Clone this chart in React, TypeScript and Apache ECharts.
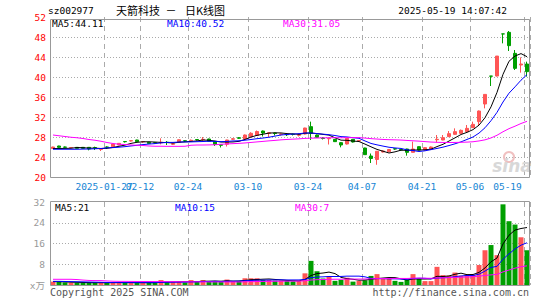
import React, { useEffect, useRef } from 'react';
import * as echarts from 'echarts';

// ---------- data ----------
const dates = [
  '2025-01-14','2025-01-15','2025-01-16','2025-01-17','2025-01-20','2025-01-21','2025-01-22','2025-01-23','2025-01-24','2025-01-27',
  '2025-02-05','2025-02-06','2025-02-07','2025-02-10','2025-02-11','2025-02-12','2025-02-13','2025-02-14','2025-02-17','2025-02-18',
  '2025-02-19','2025-02-20','2025-02-21','2025-02-24','2025-02-25','2025-02-26','2025-02-27','2025-02-28','2025-03-03','2025-03-04',
  '2025-03-05','2025-03-06','2025-03-07','2025-03-10','2025-03-11','2025-03-12','2025-03-13','2025-03-14','2025-03-17','2025-03-18',
  '2025-03-19','2025-03-20','2025-03-21','2025-03-24','2025-03-25','2025-03-26','2025-03-27','2025-03-28','2025-03-31','2025-04-01',
  '2025-04-02','2025-04-03','2025-04-07','2025-04-08','2025-04-09','2025-04-10','2025-04-11','2025-04-14','2025-04-15','2025-04-16',
  '2025-04-17','2025-04-18','2025-04-21','2025-04-22','2025-04-23','2025-04-24','2025-04-25','2025-04-28','2025-04-29','2025-04-30',
  '2025-05-06','2025-05-07','2025-05-08','2025-05-09','2025-05-12','2025-05-13','2025-05-14','2025-05-15','2025-05-16','2025-05-19',
];

const opens = [
  25.7,26.2,26.0,25.85,25.93,25.93,25.93,25.9,25.5,26.0,
  26.07,26.4,27.1,27.2,27.4,27.05,26.95,26.85,26.85,26.95,
  26.55,26.95,27.25,27.25,27.5,27.45,27.6,27.1,26.45,26.55,
  27.55,27.85,27.6,28.05,28.3,29.2,28.75,28.8,28.5,28.5,
  28.55,28.35,28.6,30.07,28.4,27.8,27.65,27.53,26.87,26.6,
  27.53,27.2,25.8,24.2,23.5,25.0,25.05,25.65,25.5,25.6,
  24.93,26.07,25.4,25.6,27.45,27.4,28.07,28.53,28.73,29.07,
  29.87,31.07,34.6,40.18,40.2,48.62,48.93,44.73,42.4,42.6,
];
const closes = [
  26.0,25.93,25.95,25.9,25.73,25.73,25.6,25.87,25.55,25.95,
  26.6,26.73,27.05,27.27,27.07,27.1,26.7,26.8,26.95,26.9,
  26.65,27.45,27.2,27.35,27.45,27.55,27.15,26.5,26.35,27.4,
  27.65,27.75,28.4,28.75,29.1,28.8,28.85,28.7,28.6,28.45,
  28.5,28.45,29.8,28.73,27.93,27.7,27.75,27.07,26.4,27.73,
  27.0,27.3,24.47,23.7,25.15,25.2,25.5,25.6,25.4,24.93,
  25.6,25.4,25.87,26.0,27.55,27.87,28.67,29.07,29.33,29.73,
  30.53,33.2,36.52,40.17,44.19,48.61,46.27,41.73,42.6,41.07,
];
const lows = [
  25.6,25.85,25.8,25.8,25.7,25.7,25.33,25.4,25.2,25.6,
  26.0,26.35,26.9,27.1,27.0,26.85,26.6,26.7,26.53,26.4,
  26.4,26.9,27.0,27.15,27.3,27.2,27.1,26.2,25.9,26.1,
  27.4,27.6,27.5,28.0,28.25,28.1,28.0,28.3,28.3,28.2,
  28.3,28.1,28.5,27.4,27.8,27.5,26.5,27.0,25.93,26.5,
  26.9,27.0,24.4,22.8,22.45,24.9,25.0,25.45,25.3,24.27,
  24.9,25.35,25.3,25.55,26.93,27.35,28.0,28.45,28.65,29.0,
  29.8,30.2,33.73,38.2,40.1,46.73,45.2,41.4,40.87,40.07,
];
const highs = [
  26.05,26.25,26.1,25.95,25.95,25.95,25.95,26.07,25.6,26.13,
  26.65,26.8,27.2,27.4,27.45,27.2,27.0,26.95,27.73,27.2,
  26.75,27.5,27.35,27.5,27.6,28.0,27.65,27.15,26.6,27.45,
  27.8,28.0,28.5,28.95,29.3,29.3,28.9,28.85,28.7,28.6,
  28.65,28.7,29.85,31.07,28.5,28.0,27.9,27.6,27.0,27.8,
  27.6,27.4,25.85,24.7,25.2,25.3,25.6,25.75,25.6,25.65,
  27.07,26.1,25.95,26.1,28.4,28.4,29.2,29.73,29.5,30.4,
  31.07,33.3,36.52,40.18,44.19,48.62,49.2,45.4,43.93,43.07,
];

const ma5 = [
  25.7,25.7,25.72,25.75,25.90,25.85,25.78,25.77,25.70,25.74,
  25.91,26.14,26.38,26.72,26.94,27.04,27.04,26.99,26.92,26.89,
  26.80,26.95,27.03,27.11,27.22,27.40,27.34,27.20,27.00,26.99,
  27.01,27.13,27.51,27.99,28.33,28.56,28.78,28.84,28.81,28.68,
  28.62,28.54,28.76,28.79,28.68,28.52,28.38,27.84,27.37,27.33,
  27.19,27.10,26.58,26.04,25.52,25.16,24.80,25.03,25.37,25.33,
  25.41,25.39,25.44,25.56,26.08,26.54,27.19,27.83,28.50,28.93,
  29.47,30.37,31.86,34.03,36.92,40.54,43.15,44.19,44.68,44.06,
];
const ma10 = [
  25.55,25.55,25.55,25.55,25.55,25.58,25.6,25.65,25.7,25.82,
  25.88,25.96,26.07,26.21,26.34,26.48,26.59,26.68,26.82,26.92,
  26.92,26.99,27.01,27.02,27.06,27.10,27.15,27.12,27.06,27.11,
  27.21,27.24,27.36,27.50,27.66,27.79,27.96,28.18,28.40,28.51,
  28.59,28.66,28.80,28.80,28.68,28.57,28.46,28.30,28.08,28.01,
  27.86,27.74,27.21,26.71,26.43,26.18,25.95,25.81,25.71,25.43,
  25.29,25.10,25.24,25.47,25.71,25.97,26.29,26.64,27.03,27.51,
  28.00,28.78,29.85,31.26,32.93,35.00,36.76,38.03,39.36,40.49,
];
const ma30 = [
  28.4,28.25,28.1,27.95,27.85,27.7,27.5,27.35,27.15,26.9,
  26.7,26.55,26.5,26.4,26.35,26.3,26.2,26.15,26.15,26.13,
  26.13,26.13,26.15,26.35,26.4,26.4,26.42,26.45,26.55,26.61,
  26.67,26.73,26.81,26.91,27.02,27.12,27.23,27.32,27.43,27.51,
  27.57,27.63,27.72,27.77,27.80,27.82,27.85,27.86,27.84,27.87,
  27.88,27.88,27.79,27.67,27.59,27.51,27.46,27.43,27.39,27.31,
  27.24,27.17,27.08,26.99,26.94,26.91,26.90,26.91,26.94,26.98,
  27.05,27.21,27.43,27.81,28.35,29.05,29.67,30.16,30.70,31.14,
];

const volumes = [
  1.3,1.2,1.0,0.9,0.9,0.9,0.9,0.9,0.9,0.9,
  1.0,1.0,0.9,0.9,0.9,0.9,0.9,0.9,1.9,1.2,
  1.1,1.3,1.0,1.9,1.2,1.9,1.3,1.4,1.4,2.1,
  1.3,1.5,2.6,2.6,2.6,1.9,1.9,1.7,1.7,1.6,
  1.4,1.5,4.5,9.3,5.3,2.5,3.3,1.6,2.0,2.8,
  1.3,1.6,1.8,3.5,4.2,2.3,2.6,1.6,1.2,2.0,
  4.2,2.6,1.5,1.5,7.0,3.8,3.6,4.8,3.6,4.2,
  4.0,7.7,13.4,15.4,11.5,31.1,24.6,23.3,18.4,13.4,
];
const volMa5 = [
  1.3,1.3,1.2,1.1,1.06,0.98,0.92,0.90,0.90,0.90,
  0.92,0.94,0.94,0.94,0.94,0.92,0.90,0.90,1.10,1.16,
  1.20,1.28,1.30,1.30,1.30,1.46,1.46,1.54,1.44,1.62,
  1.50,1.54,1.78,2.02,2.12,2.24,2.32,2.14,1.96,1.76,
  1.66,1.58,2.14,3.66,4.40,4.62,4.98,4.40,2.94,2.44,
  2.20,1.86,1.90,2.20,2.48,2.68,2.88,2.84,2.38,1.94,
  2.32,2.32,2.30,2.36,3.36,3.28,3.48,4.14,4.56,4.00,
  4.04,4.86,6.58,8.94,10.40,15.82,19.20,21.18,21.78,22.16,
];
const volMa10 = [
  1.4,1.4,1.35,1.3,1.25,1.2,1.15,1.1,1.05,0.98,
  0.95,0.93,0.92,0.92,0.92,0.92,0.92,0.92,1.02,1.05,
  1.06,1.09,1.10,1.20,1.23,1.33,1.37,1.42,1.37,1.46,
  1.48,1.50,1.66,1.73,1.87,1.87,1.93,1.96,1.99,1.94,
  1.95,1.95,2.14,2.81,3.08,3.14,3.28,3.27,3.30,3.42,
  3.41,3.42,3.15,2.57,2.46,2.44,2.37,2.37,2.29,2.21,
  2.50,2.60,2.57,2.37,2.65,2.80,2.90,3.22,3.46,3.68,
  3.66,4.17,5.36,6.75,7.20,9.93,12.03,13.88,15.36,16.28,
];
const volMa30 = [
  2.2,2.2,2.2,2.2,2.1,1.9,1.75,1.7,1.7,1.55,
  1.45,1.4,1.4,1.38,1.36,1.35,1.35,1.33,1.32,1.3,
  1.28,1.27,1.25,1.24,1.22,1.2,1.19,1.18,1.17,1.16,
  1.16,1.17,1.23,1.28,1.34,1.37,1.41,1.43,1.46,1.48,
  1.50,1.51,1.63,1.91,2.06,2.11,2.19,2.22,2.22,2.27,
  2.28,2.29,2.32,2.37,2.47,2.48,2.53,2.53,2.53,2.52,
  2.62,2.66,2.62,2.58,2.73,2.79,2.85,2.95,3.02,3.10,
  3.19,3.40,3.69,3.90,4.10,5.06,5.77,6.49,7.04,7.39,
];

const xTickDates = ['2025-01-27','2025-02-12','2025-02-24','2025-03-10','2025-03-24','2025-04-07','2025-04-21','2025-05-06','2025-05-19'];
const xTickLabels = ['2025-01-27','02-12','02-24','03-10','03-24','04-07','04-21','05-06','05-19'];
const priceAxis = { min: 20, max: 52, step: 4 };
const volAxis = { min: 0, max: 32, step: 8 };

// ---------- styles ----------
const MONO = '"DejaVu Sans Mono", "Noto Sans CJK SC", monospace';
const CJK = '"Noto Sans CJK SC", sans-serif';
const UP = '#ff5555';
const DOWN = '#009f00';
const GRID = '#aaaaaa';
const XLABEL = '#1585d4';

export default function App() {
  const ref = useRef<HTMLDivElement>(null);
  useEffect(() => {
    if (!ref.current) return;
    const chart = echarts.init(ref.current, undefined, { renderer: 'svg' });
    const ohlc = dates.map((_, i) => [opens[i], closes[i], lows[i], highs[i]]);
    const vol = volumes.map((v, i) => ({ value: v, itemStyle: { color: closes[i] > opens[i] ? UP : DOWN } }));
    const tickSet = new Set(xTickDates);
    const firstDate = xTickDates[0];
    const lastDate = xTickDates[xTickDates.length - 1];
    const splitX = { show: true, interval: (_i: number, v: string) => tickSet.has(v), lineStyle: { color: GRID, type: [5, 4], width: 1 } };
    const lineS = (data: number[], color: string, xi: number) => ({
      type: 'line', xAxisIndex: xi, yAxisIndex: xi, data, symbol: 'none', showSymbol: false,
      lineStyle: { color, width: 1 }, itemStyle: { color }, silent: true,
    });
    const txt = (text: string, x: number, y: number, fill: string, extra: any = {}) => ({
      type: 'text', x, y, silent: true, z: 20,
      style: { text, fill, font: `9.5px ${MONO}`, verticalAlign: 'middle', ...extra },
    });
    const labelBase = {
      hideOverlap: false, color: XLABEL, fontSize: 9.5, fontFamily: MONO, margin: 5, padding: [0, 6, 0, 0],
      formatter: (v: string) => {
        const k = xTickDates.indexOf(v);
        if (k < 0) return '';
        return v === lastDate ? `{last|${xTickLabels[k]}}` : xTickLabels[k];
      },
      rich: { last: { padding: [0, 33, 0, 0], color: XLABEL, fontSize: 9.5, fontFamily: MONO } },
    };
    chart.setOption({
      animation: false,
      backgroundColor: '#ffffff',
      grid: [
        { left: 50, top: 17, width: 480, height: 160 },
        { left: 50, top: 202, width: 480, height: 83 },
      ],
      xAxis: [
        {
          type: 'category', gridIndex: 0, position: 'bottom', data: dates, boundaryGap: true,
          axisLine: { show: false }, axisTick: { show: false },
          axisLabel: { ...labelBase, interval: (_i: number, v: string) => tickSet.has(v) && v !== firstDate },
          splitLine: splitX,
        },
        {
          type: 'category', gridIndex: 1, data: dates, boundaryGap: true,
          axisLine: { show: false }, axisTick: { show: false }, axisLabel: { show: false },
          splitLine: splitX,
        },
        {
          type: 'category', gridIndex: 0, position: 'bottom', offset: 0, data: dates, boundaryGap: true,
          axisLine: { show: false }, axisTick: { show: false }, splitLine: { show: false },
          axisLabel: { ...labelBase, interval: (_i: number, v: string) => v === firstDate },
        },
      ],
      yAxis: [
        {
          type: 'value', gridIndex: 0, min: priceAxis.min, max: priceAxis.max, interval: priceAxis.step,
          axisLine: { show: false }, axisTick: { show: false },
          axisLabel: { color: '#ff0000', fontSize: 9.5, fontFamily: MONO, margin: 4 },
          splitLine: { show: true, showMinLine: false, showMaxLine: false, lineStyle: { color: GRID, type: [1, 2], width: 1 } },
        },
        {
          type: 'value', gridIndex: 1, min: volAxis.min, max: volAxis.max, interval: volAxis.step,
          axisLine: { show: false }, axisTick: { show: false },
          axisLabel: { color: '#999999', fontSize: 9.5, fontFamily: MONO, margin: 5, formatter: (v: number) => (v === 0 ? 'x万' : String(v)) },
          splitLine: { show: true, showMinLine: false, showMaxLine: false, lineStyle: { color: GRID, type: [1, 2], width: 1 } },
        },
      ],
      series: [
        {
          type: 'candlestick', xAxisIndex: 0, yAxisIndex: 0, data: ohlc, barWidth: 4, silent: true,
          itemStyle: { color: UP, color0: DOWN, borderColor: UP, borderColor0: DOWN, borderWidth: 1 },
        },
        lineS(ma5, '#000000', 0),
        lineS(ma10, '#0000ff', 0),
        lineS(ma30, '#ff00ff', 0),
        { type: 'bar', xAxisIndex: 1, yAxisIndex: 1, data: vol, barWidth: 5, silent: true },
        lineS(volMa5, '#000000', 1),
        lineS(volMa10, '#0000ff', 1),
        lineS(volMa30, '#ff00ff', 1),
      ],
      graphic: [
        { type: 'rect', silent: true, z: 15, shape: { x: 50.5, y: 19.5, width: 479, height: 158 }, style: { fill: 'none', stroke: '#999999', lineWidth: 1 } },
        { type: 'rect', silent: true, z: 15, shape: { x: 50.5, y: 201.5, width: 479, height: 84 }, style: { fill: 'none', stroke: '#999999', lineWidth: 1 } },
        txt('sz002977', 48, 10.5, '#000000'),
        { type: 'text', x: 116, y: 10, silent: true, z: 20, style: { text: '天箭科技', fill: '#000', font: `11px ${CJK}`, verticalAlign: 'middle' } },
        { type: 'text', x: 171, y: 10, silent: true, z: 20, style: { text: '－', fill: '#000', font: `11px ${CJK}`, verticalAlign: 'middle', align: 'center' } },
        { type: 'text', x: 185, y: 10, silent: true, z: 20, style: { text: '日K线图', fill: '#000', font: `11px ${CJK}`, verticalAlign: 'middle' } },
        txt('2025-05-19 14:07:42', 507, 10.5, '#000000', { align: 'right' }),
        txt('MA5:44.11', 52, 23.5, '#000000'),
        txt('MA10:40.52', 167, 23.5, '#0000ff'),
        txt('MA30:31.05', 283, 23.5, '#ff00ff'),
        txt('MA5:21', 55, 207, '#000000'),
        txt('MA10:15', 175, 207, '#0000ff'),
        txt('MA30:7', 295, 207, '#ff00ff'),
        { type: 'text', x: 50, y: 292.5, silent: true, z: 20, style: { text: 'Copyright 2025 SINA.COM', fill: '#555555', font: `10px ${MONO}`, verticalAlign: 'middle' } },
        { type: 'text', x: 529, y: 292.5, silent: true, z: 20, style: { text: 'http://finance.sina.com.cn', fill: '#555555', font: `10px ${MONO}`, verticalAlign: 'middle', align: 'right' } },
        { type: 'circle', silent: true, z: 5, shape: { cx: 509, cy: 157, r: 5 }, style: { fill: 'none', stroke: '#f0c0c0', lineWidth: 2 } },
        { type: 'text', x: 512, y: 166, silent: true, z: 5, style: { text: 'sina', fill: '#d8d8d8', font: `italic bold 17px "DejaVu Sans", sans-serif`, verticalAlign: 'middle', align: 'center' } },
      ],
    });
    return () => chart.dispose();
  }, []);
  return <div ref={ref} style={{ position: 'absolute', left: 0, top: 0, width: 545, height: 300 }} />;
}
